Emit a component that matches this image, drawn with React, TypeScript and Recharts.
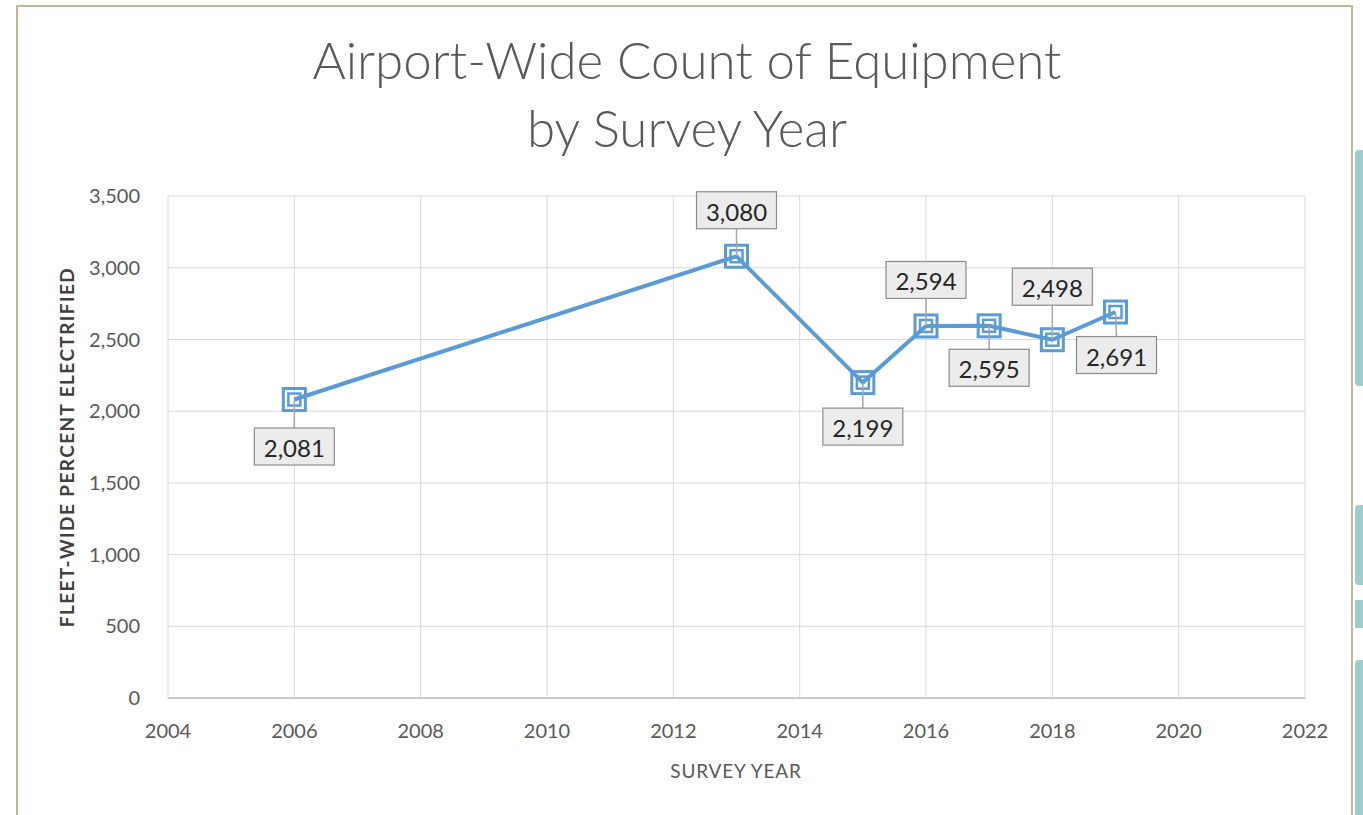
import React from 'react';
import { LineChart, Line, XAxis, YAxis, CartesianGrid, LabelList, Label } from 'recharts';

const years = [2006, 2013, 2015, 2016, 2017, 2018, 2019];
const counts = [2081, 3080, 2199, 2594, 2595, 2498, 2691];
const xTicks = [2004, 2006, 2008, 2010, 2012, 2014, 2016, 2018, 2020, 2022];
const yTicks = [0, 500, 1000, 1500, 2000, 2500, 3000, 3500];

const titleLines = ['Airport-Wide Count of Equipment', 'by Survey Year'];
const xTitle = 'SURVEY YEAR';
const yTitle = 'FLEET-WIDE PERCENT ELECTRIFIED';

const data = years.map((y, i) => ({ year: y, count: counts[i] }));

// label callout placement (box centre offset from point), by point index
const labelOffsets: [number, number][] = [
  [0, 47], [0, -46], [0, 44], [0, -46], [0, 42], [0, -53], [1, 43],
];

const FONT = 'Lato, "Open Sans", sans-serif';
const BLUE = '#5B9BD5';

const fmt = (v: number) => v.toLocaleString('en-US');

const Marker = (props: any) => {
  const { cx, cy } = props;
  if (cx == null || cy == null) return null;
  return (
    <g>
      <rect x={cx - 11} y={cy - 11} width={22} height={22} fill="none" stroke={BLUE} strokeWidth={3} />
      <rect x={cx - 6} y={cy - 6} width={12} height={12} fill="none" stroke={BLUE} strokeWidth={2.5} />
    </g>
  );
};

const Callout = (props: any) => {
  const { x, y, value, index } = props;
  const [ox, oy] = labelOffsets[index] || [0, -45];
  const w = 80;
  const h = 37;
  const bx = x + ox;
  const by = y + oy;
  const edgeY = oy > 0 ? by - h / 2 : by + h / 2;
  return (
    <g>
      <line x1={x} y1={y} x2={bx} y2={edgeY} stroke="#a6a6a6" strokeWidth={1.5} />
      <rect x={bx - w / 2} y={by - h / 2} width={w} height={h} fill="#ececec" stroke="#8c8c8c" strokeWidth={1.2} />
      <text x={bx} y={by + 1} textAnchor="middle" dominantBaseline="central" fontFamily={FONT} fontSize={24} fill="#262626">
        {fmt(Number(value))}
      </text>
    </g>
  );
};

export default function App() {
  return (
    <div style={{ position: 'absolute', left: 0, top: 0, width: 1363, height: 815, background: '#fff', overflow: 'hidden' }}>
      {/* frame */}
      <div style={{ position: 'absolute', left: 16, top: 5, width: 1337, height: 830, border: '2px solid #c3b797', boxSizing: 'border-box' }} />
      {/* right-edge strips */}
      <div style={{ position: 'absolute', left: 1355, top: 150, width: 8, height: 236, background: '#9fcccc', borderRadius: '4px 0 0 4px' }} />
      <div style={{ position: 'absolute', left: 1355, top: 505, width: 8, height: 80, background: '#9fcccc', borderRadius: '4px 0 0 4px' }} />
      <div style={{ position: 'absolute', left: 1355, top: 600, width: 8, height: 28, background: '#9fcccc' }} />
      <div style={{ position: 'absolute', left: 1355, top: 660, width: 8, height: 160, background: '#9fcccc', borderRadius: '4px 0 0 0' }} />
      {/* title */}
      <div style={{ position: 'absolute', left: 0, top: 26, width: 1374, textAlign: 'center', fontFamily: FONT, fontWeight: 300, fontSize: 51, lineHeight: '68px', color: '#595959' }}>
        {titleLines.map((t) => (
          <div key={t}>{t}</div>
        ))}
      </div>
      <div style={{ position: 'absolute', left: 0, top: 0 }}>
        <LineChart width={1363} height={815} data={data} margin={{ top: 196, right: 58, left: 0, bottom: 0 }}>
          <CartesianGrid stroke="#d9d9d9" strokeWidth={1} />
          <XAxis
            dataKey="year"
            type="number"
            domain={[2004, 2022]}
            ticks={xTicks}
            interval={0}
            height={117}
            axisLine={{ stroke: '#bfbfbf', strokeWidth: 1.5 }}
            tickLine={false}
            tick={{ fontFamily: FONT, fontSize: 20, fill: '#595959' }}
            tickMargin={20}
          >
            <Label
              content={() => (
                <text x={736} y={770} textAnchor="middle" dominantBaseline="central" fontFamily={FONT} fontSize={19} letterSpacing={0.8} fill="#595959">
                  {xTitle}
                </text>
              )}
            />
          </XAxis>
          <YAxis
            type="number"
            domain={[0, 3500]}
            ticks={yTicks}
            interval={0}
            width={168}
            axisLine={false}
            tickLine={false}
            tickFormatter={fmt}
            tick={{ fontFamily: FONT, fontSize: 20, fill: '#595959' }}
            tickMargin={22}
          >
            <Label
              content={() => (
                <text x={66} y={447} transform="rotate(-90 66 447)" textAnchor="middle" dominantBaseline="central" fontFamily={FONT} fontSize={19} fontWeight="bold" letterSpacing={1.4} fill="#404040">
                  {yTitle}
                </text>
              )}
            />
          </YAxis>
          <Line
            type="linear"
            dataKey="count"
            stroke={BLUE}
            strokeWidth={4}
            dot={<Marker />}
            activeDot={false}
            isAnimationActive={false}
          >
            <LabelList dataKey="count" content={<Callout />} />
          </Line>
        </LineChart>
      </div>
    </div>
  );
}
